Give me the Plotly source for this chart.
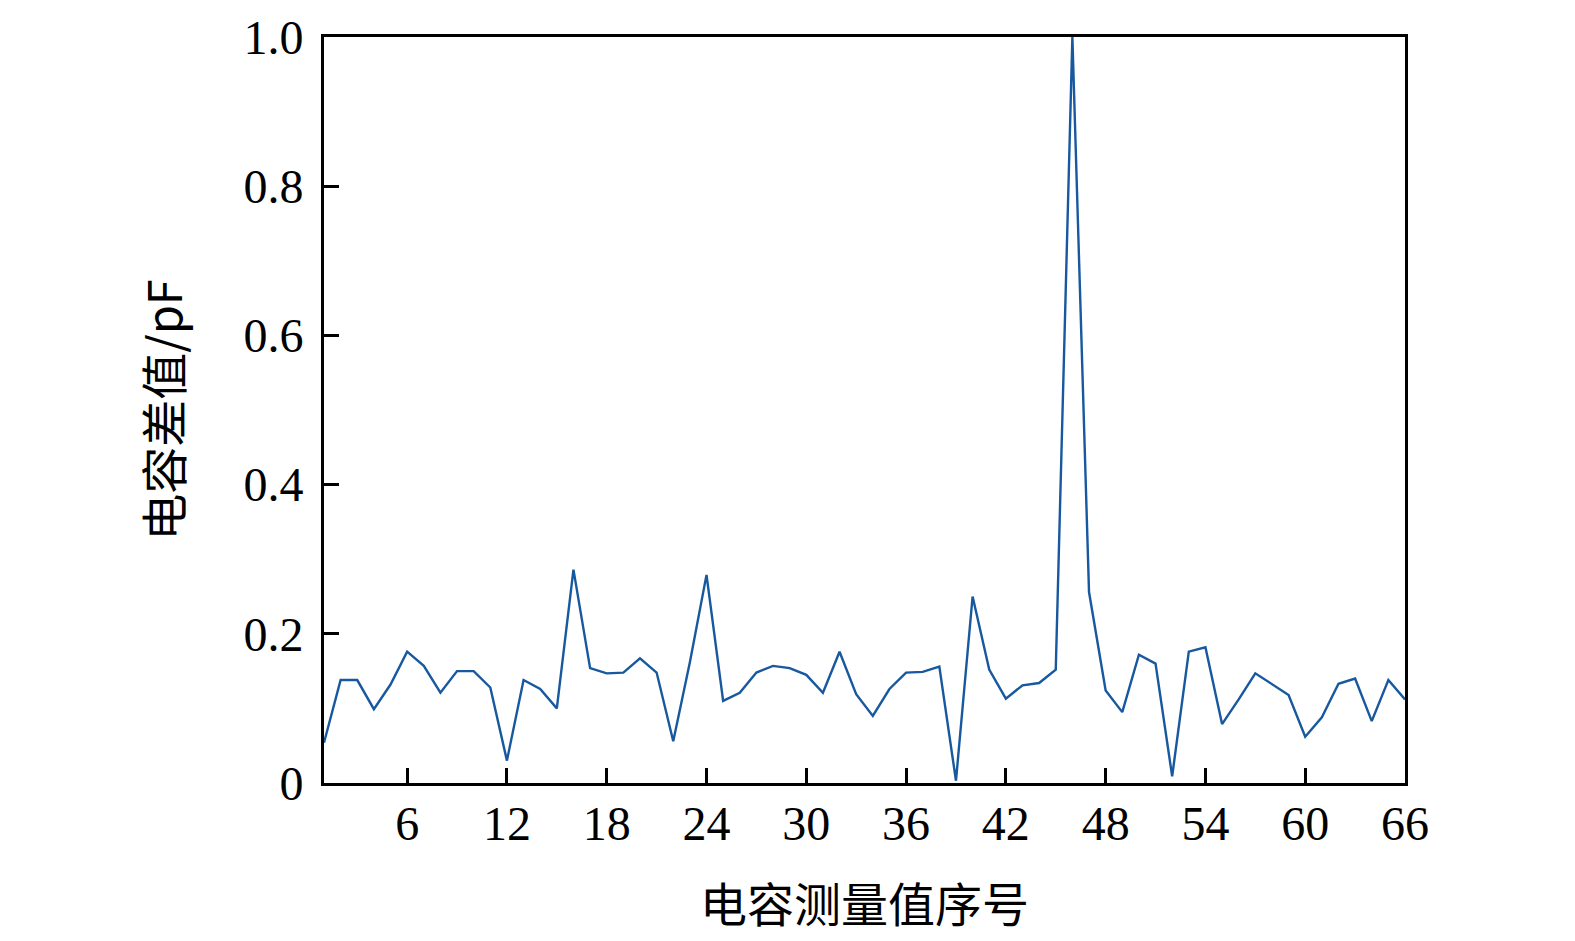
import plotly.graph_objects as go

index = list(range(1, 67))
cap_diff = [
    0.054, 0.138, 0.138, 0.099, 0.132, 0.176, 0.157, 0.121, 0.150, 0.150,
    0.128, 0.030, 0.138, 0.126, 0.100, 0.286, 0.154, 0.147, 0.148, 0.167,
    0.148, 0.056, 0.162, 0.279, 0.110, 0.121, 0.148, 0.157, 0.154, 0.145,
    0.121, 0.176, 0.119, 0.090, 0.126, 0.148, 0.149, 0.156, 0.003, 0.250,
    0.152, 0.113, 0.131, 0.134, 0.152, 1.000, 0.256, 0.124, 0.095, 0.172,
    0.160, 0.009, 0.176, 0.182, 0.079, 0.112, 0.147, 0.132, 0.118, 0.062,
    0.088, 0.133, 0.140, 0.083, 0.138, 0.112,
]
x_ticks = [6, 12, 18, 24, 30, 36, 42, 48, 54, 60, 66]
y_ticks = [0, 0.2, 0.4, 0.6, 0.8, 1.0]
y_tick_text = ["0", "0.2", "0.4", "0.6", "0.8", "1.0"]

serif = "Liberation Serif, Times New Roman, serif"
cjk = "Noto Sans CJK SC, Liberation Serif, serif"

fig = go.Figure(go.Scatter(
    x=index, y=cap_diff, mode="lines",
    line=dict(color="#17589f", width=2.4),
    showlegend=False,
))

fig.update_layout(
    width=1567, height=933,
    paper_bgcolor="white", plot_bgcolor="white",
    margin=dict(l=316, r=170, t=29, b=158),
    font=dict(family=serif, size=48, color="black"),
)
fig.update_xaxes(
    range=[1, 66], tickvals=x_ticks, ticks="inside", ticklen=15, tickwidth=3,
    tickcolor="black", showline=True, linewidth=3, linecolor="black", mirror=True,
    showgrid=False, zeroline=False, tickfont=dict(family=serif, size=48),
    ticklabelstandoff=-4, automargin=False,
    title=dict(text="电容测量值序号", font=dict(family=cjk, size=47), standoff=41),
)
fig.update_yaxes(
    range=[0, 1.0], tickvals=y_ticks, ticktext=y_tick_text, ticks="inside",
    ticklen=15, tickwidth=3, tickcolor="black", showline=True, linewidth=3,
    linecolor="black", mirror=True, showgrid=False, zeroline=False,
    tickfont=dict(family=serif, size=48), ticklabelstandoff=8, automargin=False,
    title=dict(text="电容差值/pF", font=dict(family=cjk, size=47), standoff=46),
)

fig.write_html("out.html")
